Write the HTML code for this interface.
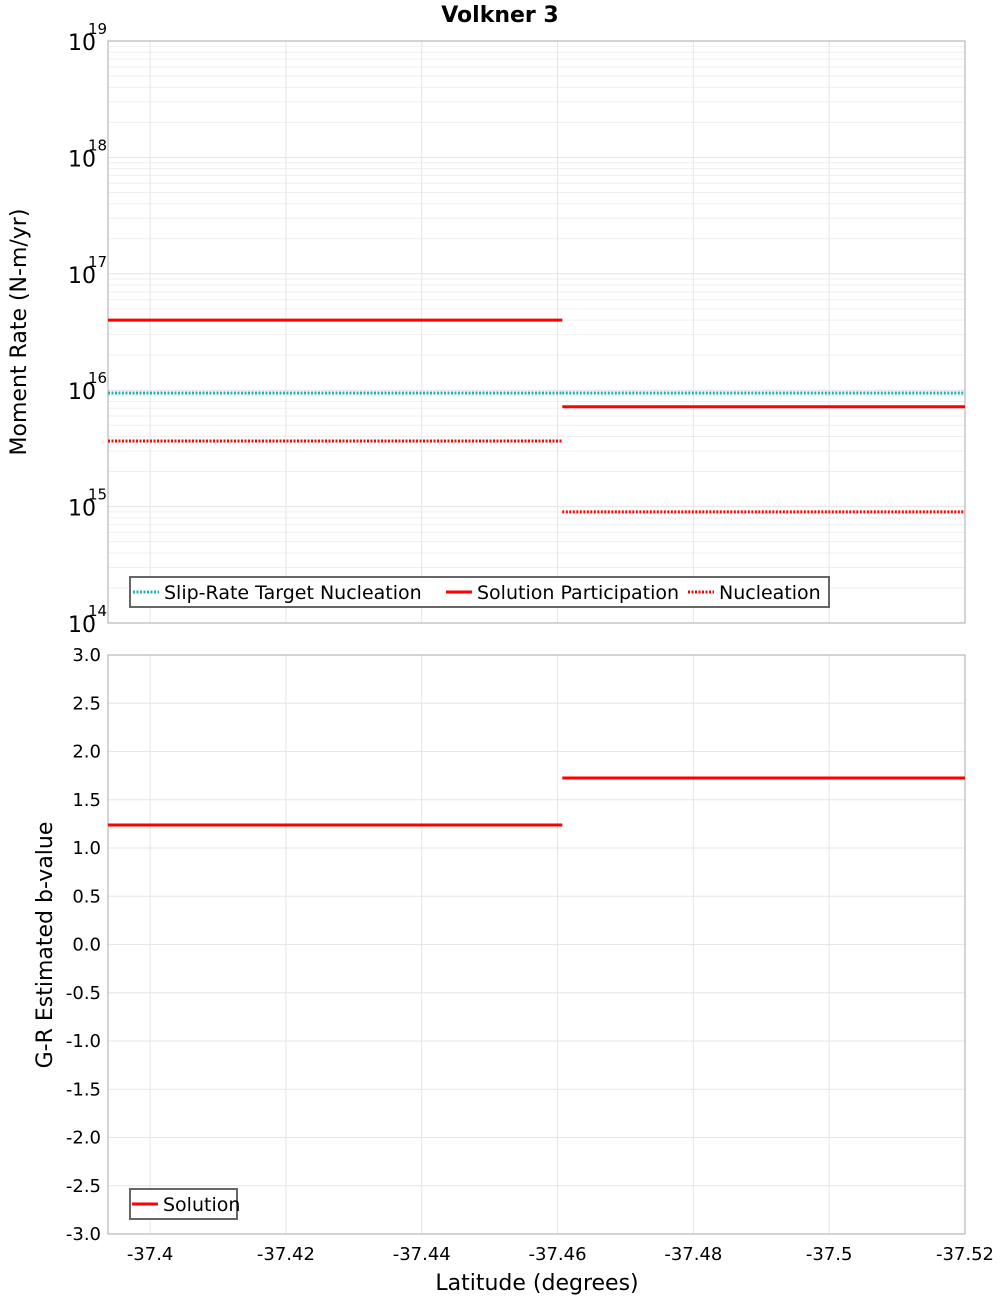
<!DOCTYPE html>
<html><head><meta charset="utf-8"><style>
body{margin:0;background:#fff;font-family:"DejaVu Sans","Liberation Sans",sans-serif}
svg text{font-family:"DejaVu Sans","Liberation Sans",sans-serif}
</style></head><body>
<svg id="c" width="1000" height="1300" xmlns="http://www.w3.org/2000/svg">
<text x="500" y="22" text-anchor="middle" font-size="22" font-weight="bold">Volkner 3</text>
<g id="gtop"></g><g id="gbot"></g>
<text transform="translate(26,332) rotate(-90)" text-anchor="middle" font-size="22">Moment Rate (N-m/yr)</text>
<text transform="translate(52,945) rotate(-90)" text-anchor="middle" font-size="22">G-R Estimated b-value</text>
<text x="537" y="1290" text-anchor="middle" font-size="22">Latitude (degrees)</text>
</svg>
<script>
const xTicks=[-37.4,-37.42,-37.44,-37.46,-37.48,-37.5,-37.52];
const segStart=[-37.3938,-37.4607];
const segEnd=[-37.4607,-37.52];
const slipTarget=[9.46e15,9.46e15];
const solutionPart=[4.0e16,7.2e15];
const nucleation=[3.66e15,9.0e14];
const bValue=[1.238,1.725];
const logTicks=[14,15,16,17,18,19];
const bTicks=[3,2.5,2,1.5,1,0.5,0,-0.5,-1,-1.5,-2,-2.5,-3];
const NS="http://www.w3.org/2000/svg";
const L=108,R=965;
const xs=v=>L+(v-(-37.3938))/(-37.52+37.3938)*(R-L);
const yT=v=>623-(Math.log10(v)-14)/5*582;
const yB=v=>655+(3-v)/6*579;
function mk(p,t,a){const e=document.createElementNS(NS,t);for(const k in a)e.setAttribute(k,a[k]);p.appendChild(e);return e;}
const gTop=document.getElementById('gtop'),gBot=document.getElementById('gbot');
for(let d=14;d<19;d++)for(let m=1;m<10;m++){const y=yT(m*Math.pow(10,d));
const g=mk(gTop,'line',{x1:L,x2:R,y1:y,y2:y,stroke:m==1?'#e2e2e2':'#efefef','stroke-width':1});

}
for(const b of bTicks){const y=yB(b);const g=mk(gBot,'line',{x1:L,x2:R,y1:y,y2:y,stroke:'#e6e6e6'});

}
for(const t of xTicks){const x=xs(t);
for(const [p,a,b] of [[gTop,41,623],[gBot,655,1234]]){const g=mk(p,'line',{x1:x,x2:x,y1:a,y2:b,stroke:'#e6e6e6'});

}
const tx=mk(gBot,'text',{x:x,y:1260,'text-anchor':'middle','font-size':18});tx.textContent=String(t);

}
for(const d of logTicks){const y=yT(Math.pow(10,d));
const tx=mk(gTop,'text',{x:96,y:y+9,'text-anchor':'end','font-size':22});tx.textContent='10';


const s=mk(gTop,'text',{x:88,y:y-7,'font-size':15});s.textContent=String(d);

}
for(const b of bTicks){const tx=mk(gBot,'text',{x:101,y:yB(b)+6,'text-anchor':'end','font-size':18});tx.textContent=b.toFixed(1);

}
let f=mk(gTop,'rect',{x:L,y:41,width:R-L,height:582,fill:'none',stroke:'#aaa'});


f=mk(gBot,'rect',{x:L,y:655,width:R-L,height:579,fill:'none',stroke:'#aaa'});


function seg(p,arr,ys,col,dash,name){arr.forEach((v,i)=>{const y=ys(v);
const a={x1:xs(segStart[i]),x2:xs(segEnd[i]),y1:y,y2:y,stroke:col,'stroke-width':3};if(dash)a['stroke-dasharray']='2,1.5';
const e=mk(p,'line',a);

});}
seg(gTop,slipTarget,yT,'#19b3b3',true,'slip-rate-target-segment');
seg(gTop,solutionPart,yT,'#ff0000',false,'solution-participation-segment');
seg(gTop,nucleation,yT,'#ff0000',true,'nucleation-segment');
seg(gBot,bValue,yB,'#ff0000',false,'solution-b-value-segment');
function legend(p,x,y,w,items,name){const g=mk(p,'g',{});


mk(g,'rect',{x:x,y:y,width:w,height:30,fill:'#fff',stroke:'#666','stroke-width':2});
for(const it of items){const a={x1:it[0],x2:it[0]+26,y1:y+15,y2:y+15,stroke:it[2],'stroke-width':3};if(it[3])a['stroke-dasharray']='2,1.5';
const l=mk(g,'line',a);


const t=mk(g,'text',{x:it[0]+31,y:y+22,'font-size':19});t.textContent=it[1];

}}
legend(gTop,130,577,699,[[133,'Slip-Rate Target Nucleation','#19b3b3',1],[446,'Solution Participation','#ff0000',0],[688,'Nucleation','#ff0000',1]],'legend-top');
legend(gBot,130,1189,107,[[132,'Solution','#ff0000',0]],'legend-bottom');
</script>
</body></html>
